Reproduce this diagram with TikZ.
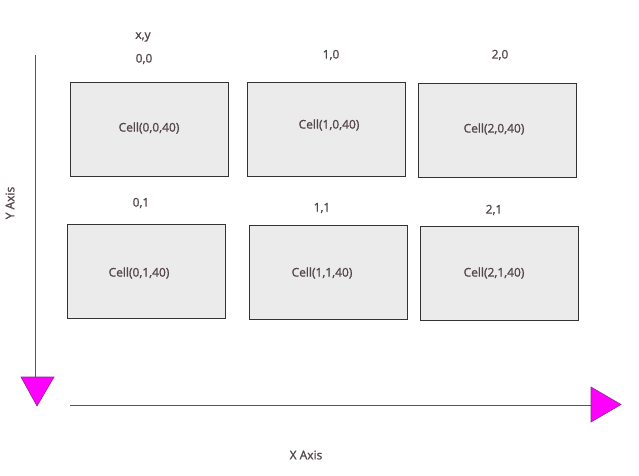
\documentclass[tikz,border=0pt]{standalone}
\usepackage{fontspec}
\setmainfont{Open Sans}[FakeBold=1.2,BoldFont=Open Sans]
\definecolor{txt}{HTML}{55464A}
\definecolor{cellfill}{HTML}{EBEBEB}
\definecolor{cellline}{HTML}{333333}
\definecolor{axisline}{HTML}{555555}
\definecolor{mag}{HTML}{FF00FF}
\definecolor{magline}{HTML}{8A2A8A}
\tikzset{
  cellbox/.style={draw=cellline, fill=cellfill, line width=0.9pt, minimum width=158pt, minimum height=94pt, inner sep=0pt},
  lbl/.style={text=txt, inner sep=0pt, font=\bfseries\fontsize{12}{14}\selectfont},
  axis/.style={draw=axisline, line width=0.9pt},
  tip/.style={fill=mag, draw=magline, line width=0.6pt, line join=miter}
}
\begin{document}
\begin{tikzpicture}[x=1pt,y=-1pt]
\useasboundingbox (0,0) rectangle (639,475);
% cells
\node[cellbox] (c00) at (149,129.5) {};
\node[cellbox] (c10) at (326.5,129) {};
\node[cellbox] (c20) at (497,130) {};
\node[cellbox] (c01) at (146.5,271) {};
\node[cellbox] (c11) at (328,272) {};
\node[cellbox] (c21) at (499,273) {};
\node[lbl] (t00) at (149,128) {Cell(0,0,40)};
\node[lbl] (t10) at (329,125) {Cell(1,0,40)};
\node[lbl] (t20) at (494,129) {Cell(2,0,40)};
\node[lbl] (t01) at (139,273) {Cell(0,1,40)};
\node[lbl] (t11) at (322,273) {Cell(1,1,40)};
\node[lbl] (t21) at (494,273) {Cell(2,1,40)};
% coordinate labels
\node[lbl] (xy) at (143,37) {x,y};
\node[lbl] (l00) at (144,59) {0,0};
\node[lbl] (l10) at (331,55) {1,0};
\node[lbl] (l20) at (500,55) {2,0};
\node[lbl] (l01) at (141,203) {0,1};
\node[lbl] (l11) at (322,208) {1,1};
\node[lbl] (l21) at (494,210) {2,1};
% axes
\coordinate (ystart) at (35,55);
\coordinate (yend) at (35,377);
\draw[axis] (ystart) -- (yend);
\filldraw[tip] (21,377) -- (54,377) -- (37,406) -- cycle;
\coordinate (xstart) at (70,405.5);
\coordinate (xend) at (591,405.5);
\draw[axis] (xstart) -- (xend);
\filldraw[tip] (591,387) -- (591,422) -- (621,404.5) -- cycle;
\node[lbl, rotate=90] (yaxis) at (10,203) {Y Axis};
\node[lbl] (xaxis) at (306,455) {X Axis};
\end{tikzpicture}
\end{document}
